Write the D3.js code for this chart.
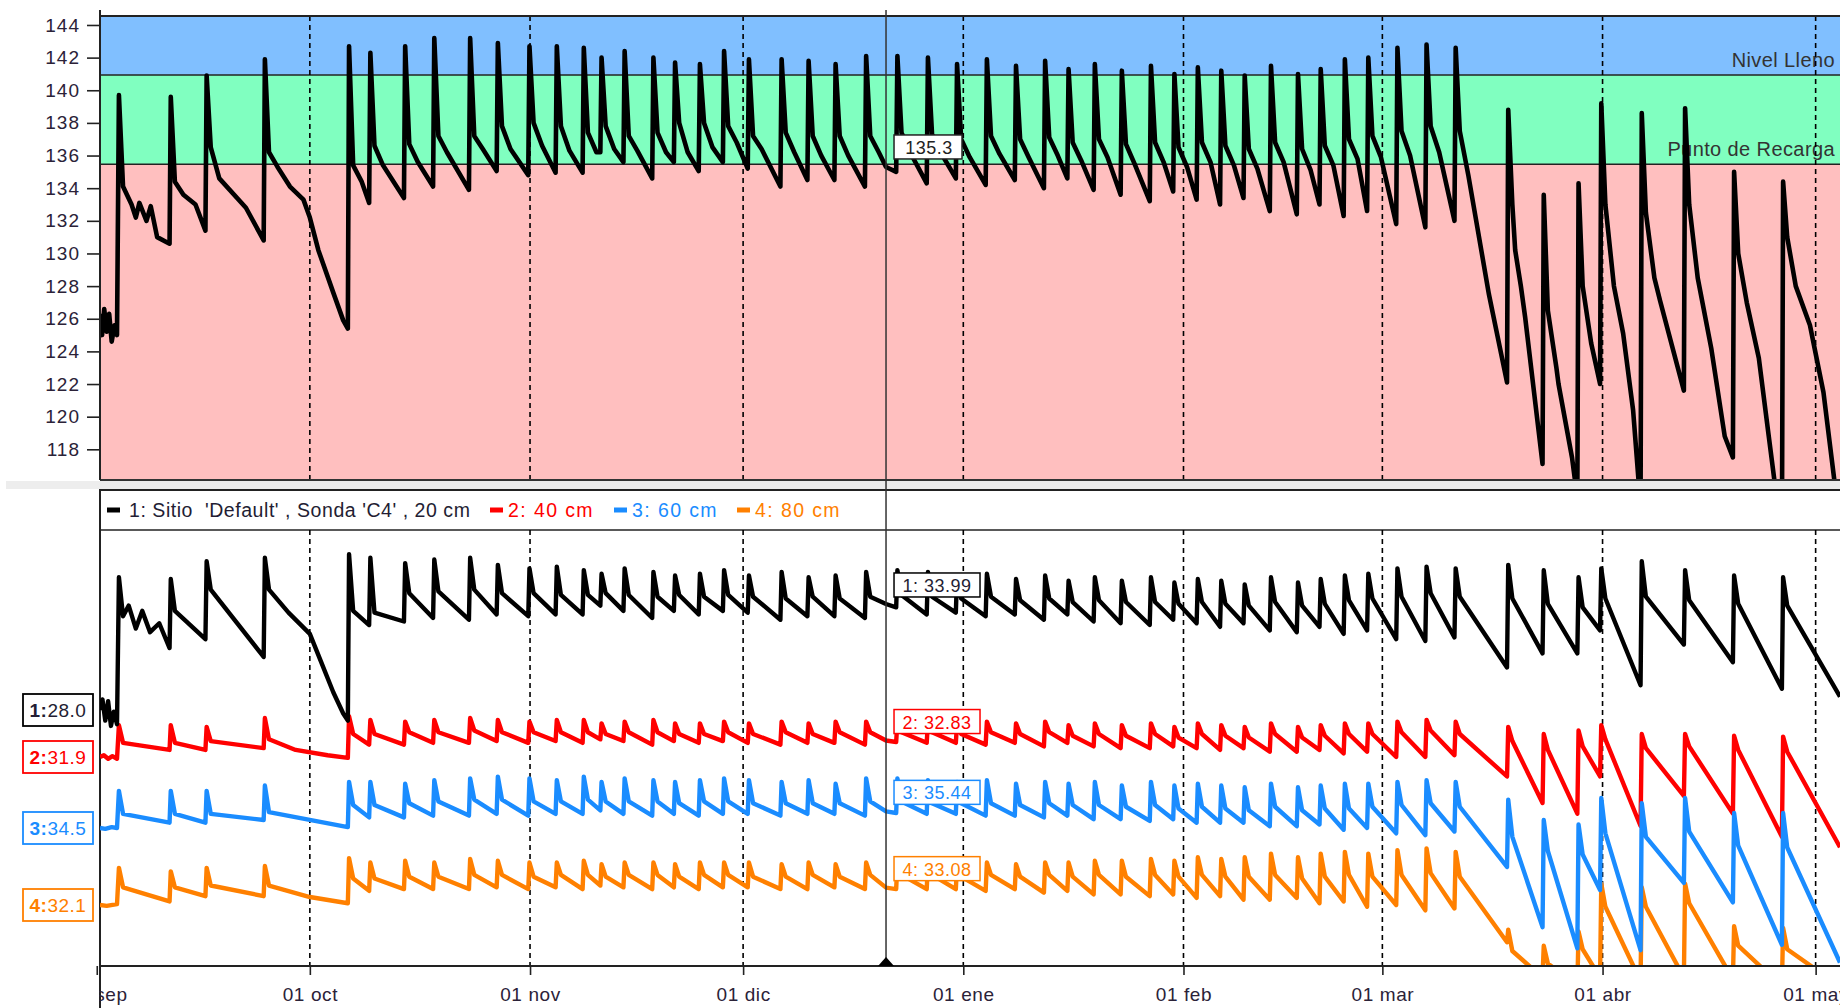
<!DOCTYPE html>
<html>
<head>
<meta charset="utf-8">
<script src="https://cdn.jsdelivr.net/npm/d3@7"></script>
<style>
  html, body { margin: 0; padding: 0; background: #fff; }
  svg { display: block; font-family: "Liberation Sans", Arial, sans-serif; }
</style>
</head>
<body>
<svg id="chart" width="1840" height="1008"></svg>
<script>
// ---- time axis -------------------------------------------------------------
const baseDate = "2022-10-01T00:00:00Z";          // day 0 of the event offsets
const viewStart = "2022-09-01T10:57:00Z";
const viewEnd = "2023-05-04T10:19:00Z";
const tickDates = ["2022-09-01", "2022-10-01", "2022-11-01", "2022-12-01", "2023-01-01",
                   "2023-02-01", "2023-03-01", "2023-04-01", "2023-05-01"];
const tickLabels = ["01 sep", "01 oct", "01 nov", "01 dic", "01 ene", "01 feb", "01 mar", "01 abr", "01 may"];
const cursorDay = 81.12;                           // cursor position, days after 1 Oct

// ---- irrigation events (days after 1 Oct 2022) -----------------------------
const eventDays = [
  -27.0, -19.7, -14.65, -6.45,
  5.4, 8.4, 13.3, 17.4, 22.45, 26.35, 30.8, 34.65, 38.45, 40.95, 44.2, 48.25, 51.3, 54.8, 58.2, 61.7, 66.3, 70.1, 73.9, 78.2, 82.6,
  86.9, 91.0, 95.2, 99.3, 103.4, 106.7, 110.4, 114.2, 118.3, 121.6, 124.9, 128.2, 131.5, 135.2, 139.0, 142.2, 145.6, 148.9, 153.0, 157.1, 161.2,
  168.6, 173.6, 178.5, 181.7, 187.4, 193.5, 200.4, 207.3
];

// ---- summed profile (mm) ---------------------------------------------------
const totalPeak = [
  139.7, 139.6, 140.9, 141.9,
  142.7, 142.3, 142.7, 143.2, 143.2, 142.9, 142.7, 142.7, 142.6, 142.0, 142.4, 142.0, 141.7, 141.6, 142.4, 141.9, 141.9, 141.8, 141.6, 142.1, 142.1,
  142.0, 141.6, 141.9, 141.5, 141.8, 141.3, 141.6, 141.2, 141.5, 141.0, 141.4, 141.2, 140.9, 141.5, 141.0, 141.3, 141.9, 142.0, 142.6, 142.8, 142.6,
  138.8, 133.6, 134.3, 139.2, 138.6, 138.9, 135.0, 134.4
];
const totalDrop = [
  134.1, 134.4, 136.5, 136.2,
  135.4, 136.6, 136.7, 137.2, 137.2, 137.8, 138.0, 137.8, 137.4, 137.8, 137.2, 137.4, 138.0, 138.0, 137.8, 137.2, 137.4, 137.2, 137.2, 137.2, 137.4,
  137.3, 137.0, 137.2, 137.0, 137.1, 136.8, 137.0, 136.7, 136.8, 136.5, 136.8, 136.6, 136.4, 136.8, 136.4, 136.6, 137.0, 137.2, 137.5, 137.8, 137.5,
  133.0, 126.5, 128.0, 133.0, 132.5, 133.0, 130.0, 131.0
];
const totalKnee = [
  133.0, 133.6, 134.6, 135.3,
  134.4, 135.4, 135.6, 136.2, 136.4, 136.4, 136.6, 136.3, 136.2, 136.4, 136.3, 136.2, 136.2, 136.5, 136.8, 136.4, 136.2, 136.0, 136.0, 136.2, 136.2,
  136.2, 135.9, 136.1, 135.9, 136.0, 135.7, 135.9, 135.5, 135.6, 135.3, 135.6, 135.4, 135.2, 135.6, 135.1, 135.4, 135.8, 135.9, 136.0, 136.2, 134.8,
  128.0, 123.0, 124.5, 128.0, 128.5, 128.5, 127.0, 128.0
];
const totalTrough = [
  130.6, 131.4, 130.8, 125.4,
  133.1, 133.4, 134.1, 133.9, 135.05, 134.8, 134.95, 134.95, 136.2, 135.6, 134.6, 135.6, 135.05, 135.6, 135.2, 134.1, 134.5, 134.5, 134.1, 135.0, 134.3,
  134.6, 134.2, 134.5, 134.0, 134.6, 133.9, 133.6, 133.2, 133.8, 133.3, 133.0, 133.4, 132.6, 132.4, 133.0, 132.3, 132.6, 131.8, 131.6, 132.0, 122.1,
  117.1, 115.0, 122.0, 114.5, 121.6, 117.5, 112.5, 113.3
];
const totalExtra = [
  [-29.25, 125.0], [-28.95, 126.6], [-28.6, 125.2], [-28.25, 126.3], [-27.9, 124.6], [-27.5, 125.6], [-27.15, 125.0],
  [-24.5, 132.2], [-24.0, 133.1], [-23.0, 132.0], [-22.4, 132.9], [-21.5, 131.0],
  [-16.1, 133.0], [-9.0, 132.8],
  [-2.8, 134.1], [-0.9, 133.3], [0.0, 132.2], [1.2, 130.2], [3.3, 127.6], [4.7, 125.9],
  [166.0, 127.5], [169.7, 130.2], [171.1, 126.1], [175.8, 122.0], [177.7, 117.5],
  [184.9, 125.1], [186.3, 120.4], [190.1, 127.1], [197.3, 124.2], [199.2, 118.8],
  [204.0, 123.6], [205.4, 118.8], [211.2, 125.6], [213.1, 121.5]
];
const totalStart = 126.3;
const totalCursor = 135.3;

// ---- sensor 1 (20 cm) ------------------------------------------------------
const s1Peak = [
  35.5, 35.4, 36.4, 36.6,
  36.8, 36.6, 36.3, 36.5, 36.6, 36.2, 36.0, 36.1, 35.9, 35.7, 36.0, 35.8, 35.6, 35.7, 35.9, 35.6, 35.8, 35.5, 35.6, 35.8, 35.9,
  35.8, 35.6, 35.7, 35.4, 35.6, 35.3, 35.5, 35.3, 35.5, 35.2, 35.4, 35.3, 35.1, 35.5, 35.2, 35.4, 35.6, 35.7, 36.0, 36.1, 36.0,
  36.2, 35.9, 35.5, 36.0, 36.4, 35.9, 35.6, 35.5
];
const s1Drop = [
  33.3, 33.6, 34.8, 34.8,
  33.6, 33.5, 34.6, 34.7, 34.8, 34.6, 34.6, 34.5, 34.5, 34.6, 34.5, 34.4, 34.5, 34.4, 34.5, 34.4, 34.3, 34.4, 34.3, 34.4, 34.5,
  34.4, 34.3, 34.4, 34.2, 34.3, 34.1, 34.2, 34.1, 34.1, 34.0, 34.1, 34.0, 33.9, 34.1, 33.9, 34.0, 34.2, 34.3, 34.4, 34.6, 34.4,
  34.3, 34.0, 33.8, 34.3, 34.4, 34.2, 34.0, 33.9
];
const s1Trough = [
  31.5, 32.0, 31.0, 27.4,
  32.8, 33.0, 33.2, 33.1, 33.4, 33.3, 33.4, 33.4, 33.9, 33.6, 33.2, 33.6, 33.4, 33.6, 33.5, 33.1, 33.3, 33.3, 33.2, 33.8, 33.4,
  33.5, 33.3, 33.4, 33.1, 33.4, 33.0, 32.9, 32.8, 33.1, 32.9, 32.7, 32.9, 32.5, 32.4, 32.7, 32.3, 32.5, 32.0, 31.9, 32.1, 30.4,
  31.2, 31.2, 32.5, 29.4, 31.7, 30.7, 29.2, 28.75
];
const s1Extra = [
  [-29.2, 28.6], [-28.8, 27.4], [-28.4, 28.5], [-28.0, 27.1], [-27.6, 27.9], [-27.15, 27.2],
  [-25.5, 33.9], [-24.5, 32.6], [-23.6, 33.6], [-22.5, 32.4], [-21.2, 32.9],
  [-3.0, 33.5], [0.0, 32.3], [1.5, 30.8], [3.3, 29.0], [4.7, 27.8]
];

// ---- sensor 2 (40 cm) ------------------------------------------------------
const s2Peak = [
  33.7, 33.7, 33.6, 34.1,
  34.2, 34.0, 33.9, 34.0, 34.1, 34.0, 33.9, 34.0, 34.0, 33.8, 33.9, 34.0, 33.8, 33.8, 33.9, 33.8, 33.9, 33.8, 33.9, 33.9, 33.9,
  33.9, 33.8, 33.9, 33.8, 33.9, 33.7, 33.8, 33.7, 33.8, 33.6, 33.8, 33.7, 33.6, 33.8, 33.6, 33.7, 33.8, 33.8, 33.9, 34.0, 33.9,
  33.6, 33.2, 33.4, 33.7, 33.2, 33.2, 33.1, 33.05
];
const s2Drop = [
  32.7, 32.7, 32.8, 32.9,
  33.2, 33.2, 33.3, 33.3, 33.4, 33.3, 33.3, 33.3, 33.3, 33.2, 33.3, 33.3, 33.2, 33.2, 33.3, 33.2, 33.3, 33.2, 33.3, 33.3, 33.3,
  33.3, 33.2, 33.3, 33.2, 33.3, 33.1, 33.2, 33.1, 33.2, 33.0, 33.2, 33.1, 33.0, 33.2, 33.0, 33.1, 33.2, 33.2, 33.3, 33.4, 33.2,
  32.8, 32.3, 32.5, 32.9, 32.4, 32.5, 32.3, 32.2
];
const s2Trough = [
  32.3, 32.3, 32.4, 31.85,
  32.6, 32.6, 32.7, 32.7, 32.8, 32.7, 32.8, 32.7, 32.9, 32.8, 32.6, 32.8, 32.7, 32.8, 32.7, 32.6, 32.7, 32.7, 32.6, 32.75, 32.7,
  32.7, 32.6, 32.7, 32.5, 32.7, 32.5, 32.4, 32.4, 32.5, 32.4, 32.3, 32.4, 32.2, 32.2, 32.3, 32.1, 32.2, 31.9, 31.9, 32.0, 30.8,
  29.3, 28.7, 30.8, 28.0, 29.7, 28.7, 27.4, 26.8
];
const s2Extra = [
  [-29.0, 32.0], [-28.4, 31.8], [-27.8, 31.95], [-27.15, 31.8],
  [-2.0, 32.3], [2.5, 32.0]
];

// ---- sensor 3 (60 cm) ------------------------------------------------------
const s3Peak = [
  36.6, 36.6, 36.6, 36.9,
  37.1, 37.1, 37.0, 37.2, 37.3, 37.4, 37.3, 37.2, 37.4, 37.1, 37.3, 37.2, 37.1, 37.2, 37.3, 37.2, 37.1, 37.2, 37.0, 37.3, 37.3,
  37.2, 37.1, 37.2, 37.0, 37.1, 37.0, 37.1, 36.9, 37.1, 36.9, 37.0, 36.9, 36.8, 37.0, 36.8, 36.9, 37.0, 37.0, 37.1, 37.2, 37.1,
  36.1, 34.95, 34.7, 36.2, 35.9, 36.2, 35.35, 35.35
];
const s3Drop = [
  35.3, 35.3, 35.3, 35.4,
  35.8, 35.8, 35.9, 36.0, 36.1, 36.1, 36.0, 36.0, 36.1, 36.0, 36.0, 36.0, 35.9, 36.0, 36.0, 35.9, 35.9, 35.9, 35.9, 36.0, 36.0,
  35.9, 35.9, 35.9, 35.8, 35.9, 35.8, 35.8, 35.7, 35.8, 35.6, 35.7, 35.6, 35.5, 35.7, 35.5, 35.6, 35.6, 35.7, 35.8, 35.9, 35.7,
  34.0, 33.2, 33.0, 34.2, 34.0, 34.3, 33.5, 33.4
];
const s3Trough = [
  34.8, 34.8, 34.95, 34.55,
  35.1, 35.1, 35.2, 35.2, 35.3, 35.2, 35.3, 35.3, 35.5, 35.3, 35.2, 35.3, 35.2, 35.3, 35.3, 35.2, 35.3, 35.3, 35.2, 35.35, 35.3,
  35.3, 35.2, 35.2, 35.1, 35.2, 35.0, 35.0, 34.9, 35.0, 34.8, 34.8, 34.8, 34.6, 34.6, 34.7, 34.4, 34.5, 34.2, 34.1, 34.3, 32.3,
  28.9, 27.7, 31.0, 27.6, 31.4, 30.3, 27.9, 26.9
];
const s3Extra = [
  [-28.8, 34.45], [-27.9, 34.55], [-27.15, 34.5]
];

// ---- sensor 4 (80 cm) ------------------------------------------------------
const s4Peak = [
  34.2, 34.0, 34.2, 34.3,
  34.75, 34.5, 34.6, 34.5, 34.7, 34.6, 34.5, 34.5, 34.6, 34.4, 34.5, 34.5, 34.4, 34.5, 34.5, 34.5, 34.4, 34.5, 34.4, 34.5, 34.5,
  34.5, 34.4, 34.5, 34.4, 34.5, 34.5, 34.6, 34.6, 34.7, 34.6, 34.8, 34.7, 34.8, 35.0, 34.8, 35.0, 35.1, 35.0, 35.2, 35.3, 35.1,
  30.7, 29.8, 30.6, 33.3, 33.1, 33.3, 30.9, 30.8
];
const s4Drop = [
  33.1, 33.1, 33.2, 33.2,
  33.6, 33.6, 33.7, 33.7, 33.8, 33.8, 33.7, 33.8, 33.8, 33.7, 33.8, 33.8, 33.7, 33.8, 33.8, 33.7, 33.7, 33.8, 33.7, 33.8, 33.8,
  33.8, 33.7, 33.8, 33.7, 33.8, 33.7, 33.8, 33.7, 33.8, 33.7, 33.8, 33.7, 33.7, 33.8, 33.6, 33.7, 33.8, 33.7, 33.8, 33.9, 33.7,
  29.5, 28.8, 29.6, 32.0, 32.0, 32.2, 29.8, 29.6
];
const s4Trough = [
  32.3, 32.6, 32.6, 32.2,
  32.9, 33.0, 33.0, 33.0, 33.1, 33.0, 33.1, 33.0, 33.2, 33.1, 33.0, 33.1, 33.0, 33.1, 33.1, 33.0, 33.0, 33.1, 33.0, 33.0, 33.0,
  33.0, 32.9, 33.0, 32.8, 32.9, 32.7, 32.7, 32.6, 32.7, 32.5, 32.6, 32.4, 32.4, 32.5, 32.2, 32.3, 32.0, 32.1, 31.8, 31.9, 30.0,
  28.0, 27.5, 28.0, 27.8, 28.0, 27.9, 27.5, 27.5
];
const s4Extra = [
  [-28.6, 32.05], [-27.15, 32.15], [0.0, 32.55]
];

// values shown in the boxed read-outs
const sensorStart = [28.0, 31.9, 34.5, 32.1];
const sensorCursor = [33.99, 32.83, 35.44, 33.08];
const sensorNames = ["1: Sitio  'Default' , Sonda 'C4' , 20 cm", "2: 40 cm", "3: 60 cm", "4: 80 cm"];
const bandNames = ["Nivel Lleno", "Punto de Recarga"];
const bandLimits = [140.94, 135.46];
const yTicks = [118, 120, 122, 124, 126, 128, 130, 132, 134, 136, 138, 140, 142, 144];

// ---- drawing ---------------------------------------------------------------
const svg = d3.select("#chart");
const W = 1840, L = 100;
const topY0 = 16, topY1 = 480;
const botY0 = 490, legY = 530, botY1 = 966;
const colors = ["#000000", "#ff0000", "#1a8cff", "#ff8000"];
const textColors = ["#231d33", "#ff0000", "#1a8cff", "#ff8000"];

const base = Date.parse(baseDate);
const toDate = d => new Date(base + d * 864e5);
const x = d3.scaleUtc().domain([new Date(viewStart), new Date(viewEnd)]).range([L, W]);
const startDay = (Date.parse(viewStart) - base) / 864e5;
const endDay = (Date.parse(viewEnd) - base) / 864e5;

const yTop = d3.scaleLinear().domain([116.12, 144.55]).range([topY1, topY0]);
const ySensor = [
  d3.scaleLinear().domain([28.0, 38.0]).range([710, 533]),
  d3.scaleLinear().domain([31.9, 41.9]).range([757, 580]),
  d3.scaleLinear().domain([34.5, 44.5]).range([828, 651]),
  d3.scaleLinear().domain([32.1, 42.1]).range([905, 728])
];

function buildSeries(peak, drop, trough, extra, knee, startVal, cursorVal) {
  const pts = extra.map(p => p.slice());
  pts.push([startDay, startVal]);
  pts.push([cursorDay, cursorVal]);
  eventDays.forEach((d, i) => {
    if (i > 0) pts.push([d - 0.05, trough[i - 1]]);
    pts.push([d + 0.12, peak[i]]);
    pts.push([d + 0.7, drop[i]]);
    if (knee) pts.push([d + 1.9, knee[i]]);
  });
  pts.push([endDay, trough[trough.length - 1]]);
  return pts.sort((a, b) => a[0] - b[0]);
}

const totalPts = buildSeries(totalPeak, totalDrop, totalTrough, totalExtra, totalKnee, totalStart, totalCursor);
const sensorPts = [
  buildSeries(s1Peak, s1Drop, s1Trough, s1Extra, null, sensorStart[0], sensorCursor[0]),
  buildSeries(s2Peak, s2Drop, s2Trough, s2Extra, null, sensorStart[1], sensorCursor[1]),
  buildSeries(s3Peak, s3Drop, s3Trough, s3Extra, null, sensorStart[2], sensorCursor[2]),
  buildSeries(s4Peak, s4Drop, s4Trough, s4Extra, null, sensorStart[3], sensorCursor[3])
];

const defs = svg.append("defs");
defs.append("clipPath").attr("id", "clipTop")
  .append("rect").attr("x", L).attr("y", topY0).attr("width", W - L).attr("height", topY1 - topY0);
defs.append("clipPath").attr("id", "clipBot")
  .append("rect").attr("x", L).attr("y", legY).attr("width", W - L).attr("height", botY1 - legY);

// strip separating the two panels
svg.append("rect").attr("x", 6).attr("y", 481).attr("width", W - 6).attr("height", 8).attr("fill", "#ededed");

// ---------- top panel ----------
const topG = svg.append("g");
const bandEdges = [yTop.domain()[1], bandLimits[0], bandLimits[1], yTop.domain()[0]];
const bandFills = ["#80bfff", "#80ffc0", "#ffbfbf"];
topG.selectAll("rect.band").data(bandFills).join("rect")
  .attr("x", L).attr("width", W - L)
  .attr("y", (c, i) => yTop(bandEdges[i]))
  .attr("height", (c, i) => yTop(bandEdges[i + 1]) - yTop(bandEdges[i]))
  .attr("fill", c => c);
topG.selectAll("line.limit").data(bandLimits).join("line")
  .attr("x1", L).attr("x2", W).attr("y1", d => yTop(d)).attr("y2", d => yTop(d))
  .attr("stroke", "#222").attr("stroke-width", 1.5);
topG.selectAll("text.bandName").data(bandNames).join("text")
  .attr("x", 1835).attr("y", (d, i) => yTop(bandLimits[i]) - 8)
  .attr("text-anchor", "end").attr("font-size", 20).attr("letter-spacing", 0.4)
  .attr("fill", "#333").text(d => d);

const grid = (g, y0, y1) => g.selectAll("line.grid").data(tickDates).join("line")
  .attr("x1", d => x(new Date(d))).attr("x2", d => x(new Date(d)))
  .attr("y1", y0).attr("y2", y1)
  .attr("stroke", "#000").attr("stroke-width", 1.6).attr("stroke-dasharray", "5,4");
grid(topG.append("g").attr("clip-path", "url(#clipTop)"), topY0, topY1);

const lineTop = d3.line().x(p => x(toDate(p[0]))).y(p => yTop(p[1]));
topG.append("path").datum(totalPts).attr("clip-path", "url(#clipTop)")
  .attr("d", lineTop).attr("fill", "none").attr("stroke", "#000")
  .attr("stroke-width", 4.6).attr("stroke-linejoin", "round");

// frame and y axis
topG.append("line").attr("x1", L).attr("x2", W).attr("y1", topY0).attr("y2", topY0).attr("stroke", "#222").attr("stroke-width", 2);
topG.append("line").attr("x1", L).attr("x2", W).attr("y1", topY1).attr("y2", topY1).attr("stroke", "#333").attr("stroke-width", 2);
const yAxis = topG.append("g").attr("transform", `translate(${L},0)`)
  .call(d3.axisLeft(yTop).tickValues(yTicks).tickSize(13).tickPadding(7).tickFormat(d3.format("d")));
yAxis.select(".domain").remove();
yAxis.append("line").attr("x1", 0).attr("x2", 0).attr("y1", 10).attr("y2", topY1).attr("stroke", "#222").attr("stroke-width", 2);
yAxis.selectAll(".tick line").attr("stroke", "#222").attr("stroke-width", 1.6);
yAxis.selectAll(".tick text").attr("font-size", 19).attr("letter-spacing", 1)
  .attr("fill", "#2b2238").attr("font-family", "'Liberation Sans', Arial, sans-serif");

// ---------- bottom panel ----------
const botG = svg.append("g");
botG.append("line").attr("x1", L - 1).attr("x2", W).attr("y1", botY0).attr("y2", botY0).attr("stroke", "#222").attr("stroke-width", 2);
botG.append("line").attr("x1", L).attr("x2", W).attr("y1", legY).attr("y2", legY).attr("stroke", "#222").attr("stroke-width", 1.6);
botG.append("line").attr("x1", L).attr("x2", L).attr("y1", botY0).attr("y2", 1008).attr("stroke", "#222").attr("stroke-width", 2);

// legend
const legendX = [107, 490, 614, 737];
const leg = botG.selectAll("g.leg").data(sensorNames).join("g")
  .attr("transform", (d, i) => `translate(${legendX[i]},510)`);
leg.append("line").attr("x1", 0).attr("x2", 13).attr("y1", 0).attr("y2", 0)
  .attr("stroke", (d, i) => colors[i]).attr("stroke-width", 5);
leg.append("text").attr("x", (d, i) => i === 0 ? 22 : 18).attr("y", 7)
  .attr("font-size", 19.5).attr("letter-spacing", (d, i) => i === 0 ? 0.55 : 1.4)
  .attr("fill", (d, i) => textColors[i]).style("white-space", "pre")
  .text(d => d);

grid(botG.append("g").attr("clip-path", "url(#clipBot)"), legY, botY1);

const sensorOrder = [1, 3, 2, 0];
const botLines = botG.append("g").attr("clip-path", "url(#clipBot)");
sensorOrder.forEach(k => {
  const ln = d3.line().x(p => x(toDate(p[0]))).y(p => ySensor[k](p[1]));
  botLines.append("path").datum(sensorPts[k]).attr("d", ln)
    .attr("fill", "none").attr("stroke", colors[k])
    .attr("stroke-width", 4.4).attr("stroke-linejoin", "round");
});

// x axis
botG.append("line").attr("x1", L).attr("x2", W).attr("y1", botY1).attr("y2", botY1).attr("stroke", "#222").attr("stroke-width", 2);
const xAxis = botG.append("g").attr("transform", `translate(0,${botY1})`)
  .call(d3.axisBottom(x).tickValues(tickDates.map(d => new Date(d))).tickSize(9).tickPadding(13)
    .tickFormat((d, i) => tickLabels[i]));
xAxis.select(".domain").remove();
xAxis.selectAll(".tick line").attr("stroke", "#222").attr("stroke-width", 1.6);
xAxis.selectAll(".tick text").attr("font-size", 19).attr("letter-spacing", 0.6)
  .attr("fill", "#2b2238").attr("font-family", "'Liberation Sans', Arial, sans-serif");
// labels are cut at the left frame line
svg.append("rect").attr("x", 0).attr("y", botY1 + 12).attr("width", L - 1).attr("height", 1008 - botY1 - 12).attr("fill", "#fff");

// ---------- cursor ----------
const cx = x(toDate(cursorDay));
svg.append("line").attr("x1", cx).attr("x2", cx).attr("y1", 10).attr("y2", botY1)
  .attr("stroke", "#333").attr("stroke-width", 1.5);
svg.append("path").attr("d", `M${cx},${botY1 - 9}L${cx - 8},${botY1}L${cx + 8},${botY1}Z`).attr("fill", "#000");

// read-out at the cursor, summed profile
const tv = yTop(totalCursor);
svg.append("rect").attr("x", cx + 8).attr("y", tv - 32).attr("width", 68).attr("height", 24)
  .attr("fill", "#fff").attr("stroke", "#222").attr("stroke-width", 1.5);
svg.append("text").attr("x", cx + 43).attr("y", tv - 13).attr("text-anchor", "middle")
  .attr("font-size", 18).attr("letter-spacing", 0.5).attr("fill", "#222").text(d3.format(".1f")(totalCursor));

// read-outs at the cursor, sensors
sensorCursor.forEach((v, k) => {
  const vy = ySensor[k](v);
  svg.append("rect").attr("x", cx + 8).attr("y", vy - 31).attr("width", 86).attr("height", 24)
    .attr("fill", "#fff").attr("stroke", colors[k]).attr("stroke-width", 1.5);
  svg.append("text").attr("x", cx + 51).attr("y", vy - 12).attr("text-anchor", "middle")
    .attr("font-size", 18).attr("letter-spacing", 0.5).attr("fill", textColors[k])
    .text(`${k + 1}: ${d3.format(".2f")(v)}`);
});

// start values at the left edge
sensorStart.forEach((v, k) => {
  const vy = ySensor[k](v);
  svg.append("rect").attr("x", 23).attr("y", vy - 16).attr("width", 70).attr("height", 32)
    .attr("fill", "#fff").attr("stroke", colors[k]).attr("stroke-width", 1.8);
  const t = svg.append("text").attr("x", 58).attr("y", vy + 7).attr("text-anchor", "middle")
    .attr("font-size", 19).attr("letter-spacing", 0.5).attr("fill", textColors[k]);
  t.append("tspan").attr("font-weight", "bold").text(`${k + 1}:`);
  t.append("tspan").text(d3.format(".1f")(v));
});
</script>
</body>
</html>
